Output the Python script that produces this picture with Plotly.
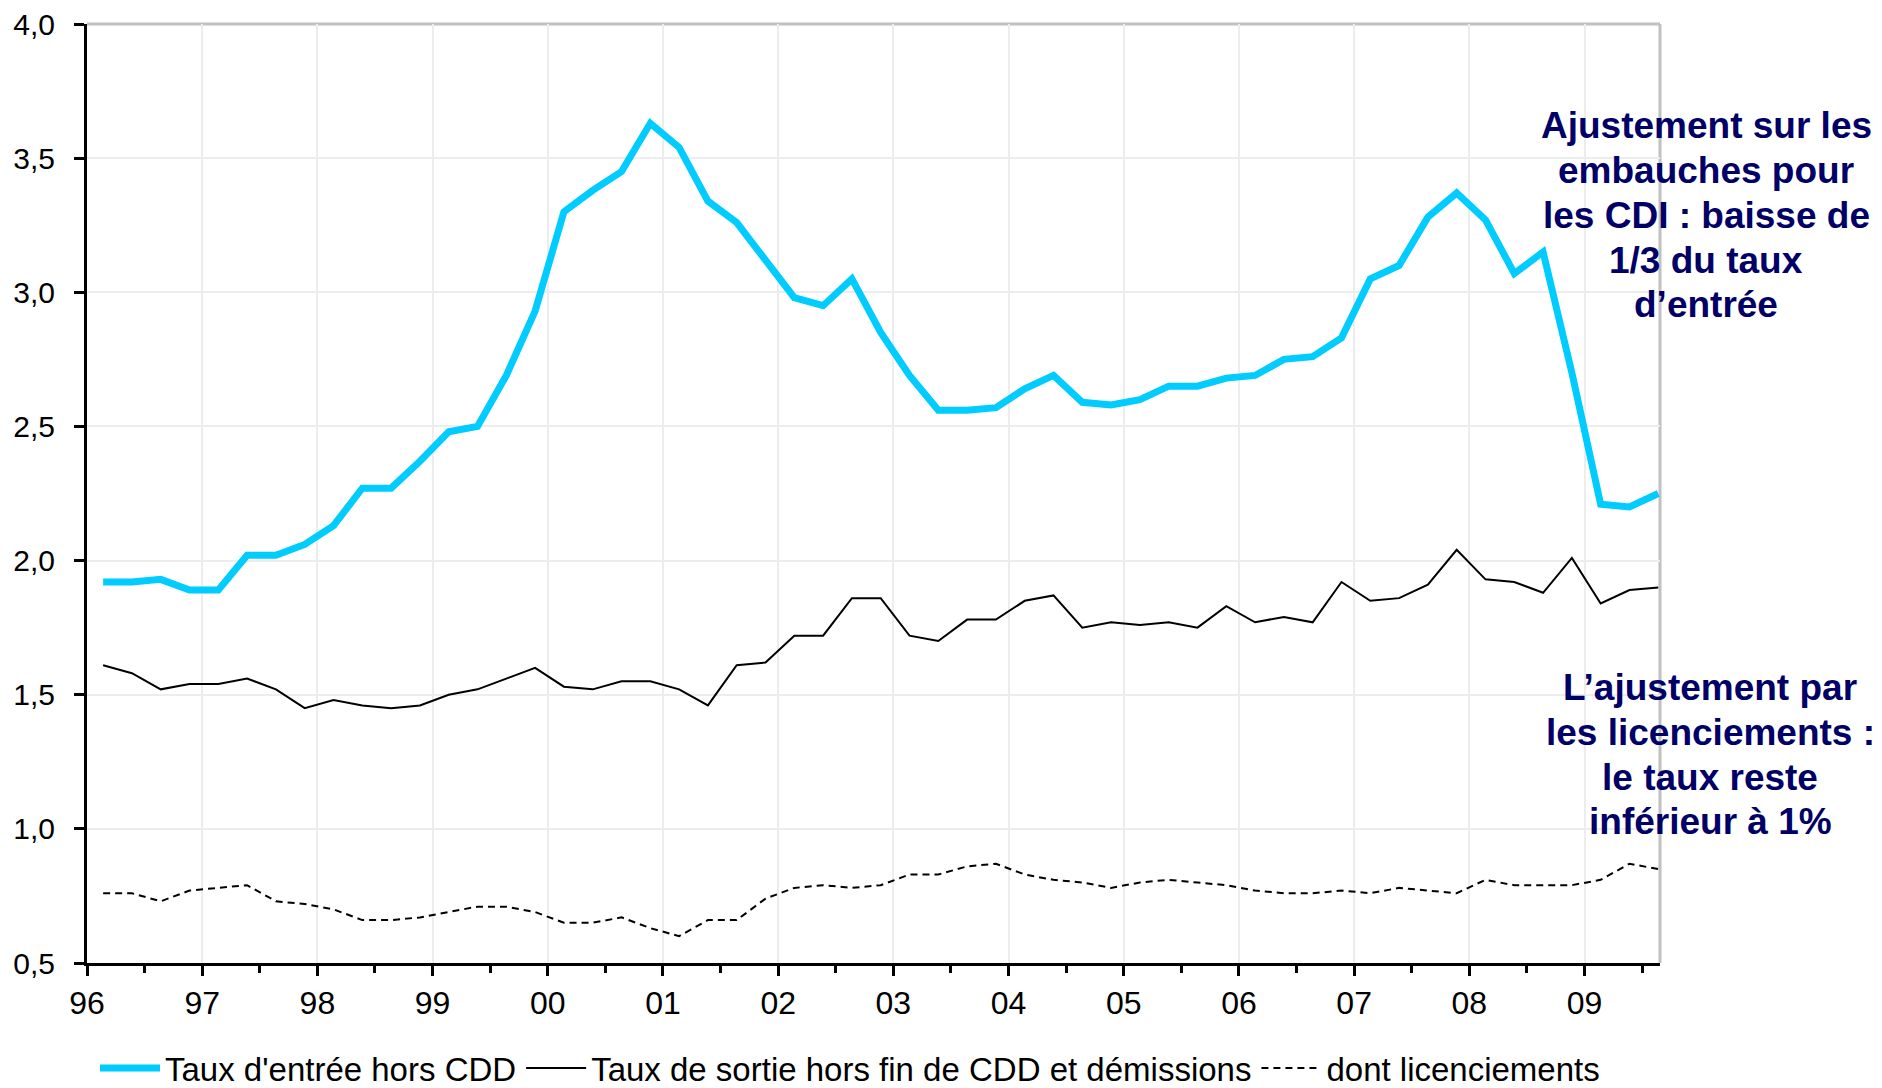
import plotly.graph_objects as go

# Quarterly data, 1996 Q1 -> 2009 Q3
years = [y for y in range(1996, 2010) for _ in range(4)][:55]
quarters = [q for _ in range(1996, 2010) for q in (1, 2, 3, 4)][:55]

taux_entree = [
    1.92, 1.92, 1.93, 1.89, 1.89, 2.02, 2.02, 2.06, 2.13, 2.27, 2.27, 2.37, 2.48, 2.50,
    2.69, 2.93, 3.30, 3.38, 3.45, 3.63, 3.54, 3.34, 3.26, 3.12, 2.98, 2.95, 3.05, 2.85,
    2.69, 2.56, 2.56, 2.57, 2.64, 2.69, 2.59, 2.58, 2.60, 2.65, 2.65, 2.68, 2.69, 2.75,
    2.76, 2.83, 3.05, 3.10, 3.28, 3.37, 3.27, 3.07, 3.15, 2.70, 2.21, 2.20, 2.25,
]
taux_sortie = [
    1.61, 1.58, 1.52, 1.54, 1.54, 1.56, 1.52, 1.45, 1.48, 1.46, 1.45, 1.46, 1.50, 1.52,
    1.56, 1.60, 1.53, 1.52, 1.55, 1.55, 1.52, 1.46, 1.61, 1.62, 1.72, 1.72, 1.86, 1.86,
    1.72, 1.70, 1.78, 1.78, 1.85, 1.87, 1.75, 1.77, 1.76, 1.77, 1.75, 1.83, 1.77, 1.79,
    1.77, 1.92, 1.85, 1.86, 1.91, 2.04, 1.93, 1.92, 1.88, 2.01, 1.84, 1.89, 1.90,
]
licenciements = [
    0.76, 0.76, 0.73, 0.77, 0.78, 0.79, 0.73, 0.72, 0.70, 0.66, 0.66, 0.67, 0.69, 0.71,
    0.71, 0.69, 0.65, 0.65, 0.67, 0.63, 0.60, 0.66, 0.66, 0.74, 0.78, 0.79, 0.78, 0.79,
    0.83, 0.83, 0.86, 0.87, 0.83, 0.81, 0.80, 0.78, 0.80, 0.81, 0.80, 0.79, 0.77, 0.76,
    0.76, 0.77, 0.76, 0.78, 0.77, 0.76, 0.81, 0.79, 0.79, 0.79, 0.81, 0.87, 0.85,
]

series_names = [
    "Taux d'entrée hors CDD",
    "Taux de sortie hors fin de CDD et démissions",
    "dont licenciements",
]
year_ticks = list(range(1996, 2010))
year_labels = ["96", "97", "98", "99", "00", "01", "02", "03", "04", "05", "06", "07", "08", "09"]
y_ticks = [0.5, 1.0, 1.5, 2.0, 2.5, 3.0, 3.5, 4.0]

note_top_lines = ["Ajustement sur les", "embauches pour", "les CDI : baisse de",
                  "1/3 du taux", "d’entrée"]
note_bottom_lines = ["L’ajustement par", "les licenciements :", "le taux reste",
                     "inférieur à 1%"]

# position of each quarter on the decimal-year axis
xpos = [y + (q - 1) * 0.25 + 0.14 for y, q in zip(years, quarters)]

FONT = "Liberation Sans, Arial, sans-serif"
NAVY = "#000066"

# layout geometry (pixels)
W, H = 1866, 1080
ML, MT = 79, 16
PLOT_W, PLOT_H = 1573, 939
MR = W - ML - PLOT_W
MB = H - MT - PLOT_H


def py(ypix):
    """figure pixel row -> paper y"""
    return (MT + PLOT_H - ypix) / PLOT_H


def px(xpix):
    return (xpix - ML) / PLOT_W


fig = go.Figure()
fig.add_trace(go.Scatter(x=xpos, y=taux_entree, mode="lines", name=series_names[0],
                         line=dict(color="#00CCFF", width=7)))
fig.add_trace(go.Scatter(x=xpos, y=taux_sortie, mode="lines", name=series_names[1],
                         line=dict(color="#000000", width=2)))
fig.add_trace(go.Scatter(x=xpos, y=licenciements, mode="lines", name=series_names[2],
                         line=dict(color="#000000", width=2, dash="7px,5px")))

annotations = []
for i, line in enumerate(note_top_lines):
    annotations.append(dict(text=line, xref="paper", yref="paper", x=px(1698),
                            y=py(118 + 44.75 * i), xanchor="center", yanchor="middle",
                            showarrow=False,
                            font=dict(size=37, family=FONT, color=NAVY, weight="bold")))
for i, line in enumerate(note_bottom_lines):
    annotations.append(dict(text=line, xref="paper", yref="paper", x=px(1702),
                            y=py(679 + 45 * i), xanchor="center", yanchor="middle",
                            showarrow=False,
                            font=dict(size=37, family=FONT, color=NAVY, weight="bold")))

fig.update_layout(
    width=W, height=H,
    margin=dict(l=ML, r=MR, t=MT, b=MB, autoexpand=False),
    paper_bgcolor="white", plot_bgcolor="white",
    separators=", ",
    font=dict(family=FONT, color="black"),
    showlegend=True,
    legend=dict(orientation="h", x=px(842), xanchor="center", y=py(1060), yanchor="middle",
                font=dict(size=33, family=FONT), itemwidth=60, tracegroupgap=0,
                bgcolor="rgba(0,0,0,0)"),
    xaxis=dict(
        range=[1996, 2009.655], tickmode="array", tickvals=year_ticks, ticktext=year_labels,
        showgrid=True, gridcolor="#EDEDED", gridwidth=2,
        showline=True, linecolor="black", linewidth=3,
        ticks="outside", ticklen=10, tickwidth=3, tickcolor="black",
        tickfont=dict(size=32, family=FONT), ticklabelstandoff=0,
        minor=dict(dtick=0.5, tick0=1996, ticks="outside", ticklen=7, tickwidth=3,
                   tickcolor="black", showgrid=False),
        zeroline=False, fixedrange=True,
    ),
    yaxis=dict(
        range=[0.5, 4.0], tickmode="array", tickvals=y_ticks, tickformat=".1f",
        showgrid=True, gridcolor="#EDEDED", gridwidth=2,
        showline=True, linecolor="black", linewidth=3,
        ticks="outside", ticklen=10, tickwidth=3, tickcolor="black",
        tickfont=dict(size=30, family=FONT), ticklabelstandoff=13,
        ticklabeloverflow="allow",
        zeroline=False, fixedrange=True,
    ),
    shapes=[
        dict(type="line", xref="paper", yref="paper", x0=0, x1=1, y0=1, y1=1,
             line=dict(color="#C0C0C0", width=3), layer="below"),
        dict(type="line", xref="paper", yref="paper", x0=1, x1=1, y0=0, y1=1,
             line=dict(color="#C0C0C0", width=3), layer="below"),
    ],
    annotations=annotations,
)

fig.write_html("out.html")
